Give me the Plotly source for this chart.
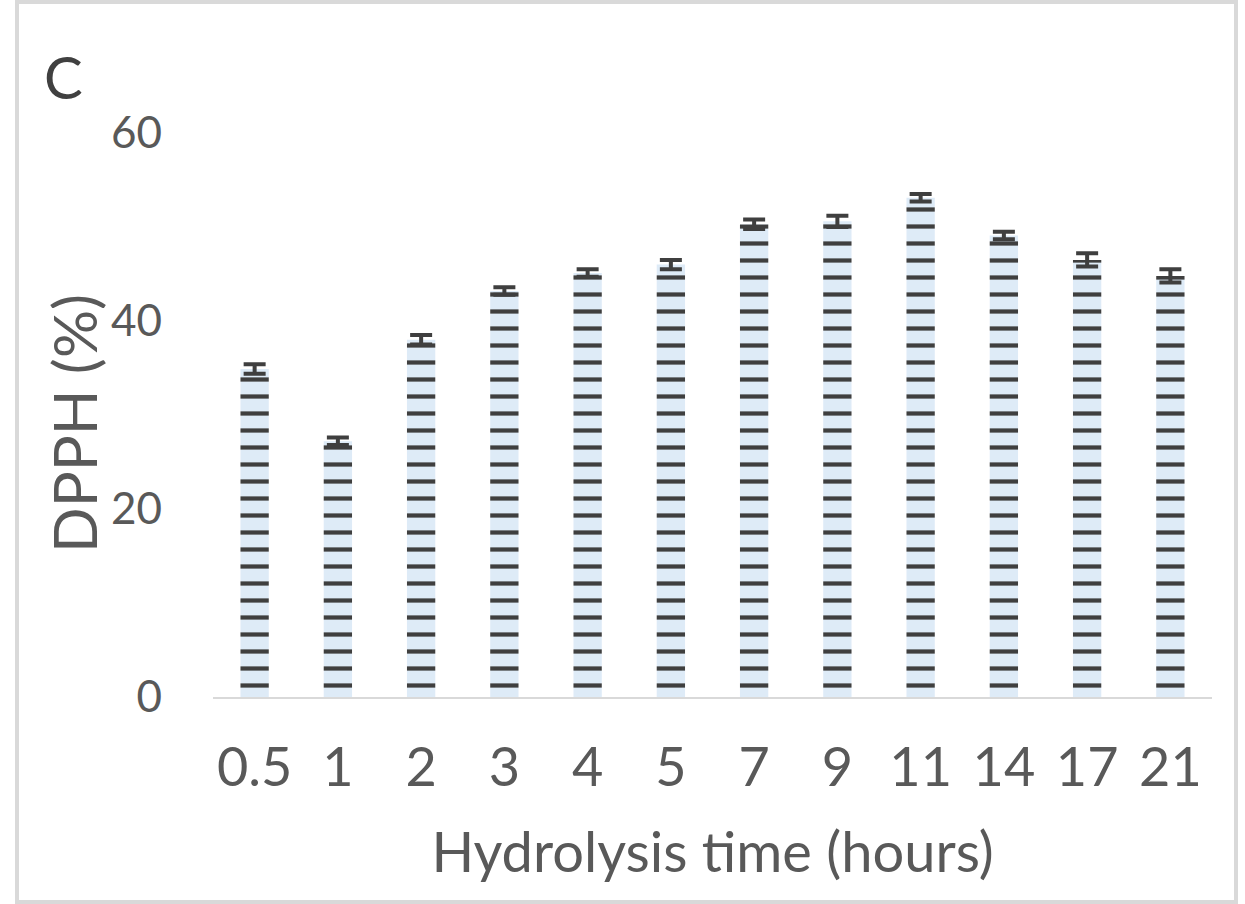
import plotly.graph_objects as go

categories = ["0.5", "1", "2", "3", "4", "5", "7", "9", "11", "14", "17", "21"]
dpph = [34.9, 27.2, 38.0, 43.2, 45.1, 46.0, 50.3, 50.6, 53.1, 49.1, 46.5, 44.8]
dpph_err = [0.5, 0.4, 0.5, 0.4, 0.4, 0.5, 0.5, 0.6, 0.4, 0.4, 0.7, 0.7]
y_ticks = [0, 20, 40, 60]

FONT = "Lato"
TXT = "#595959"

fig = go.Figure()
fig.add_trace(go.Bar(
    x=categories, y=dpph,
    marker=dict(
        color="#deebf7",
        line=dict(width=0),
        pattern=dict(shape="-", fgcolor="#3f3f3f", bgcolor="#deebf7",
                     size=17, solidity=0.25, fillmode="replace"),
    ),
    error_y=dict(type="data", array=dpph_err, visible=True,
                 color="#3f3f3f", thickness=4, width=11),
    showlegend=False,
))

fig.update_layout(
    width=1245, height=904,
    margin=dict(l=213, r=33, t=133, b=207),
    paper_bgcolor="white", plot_bgcolor="white",
    bargap=0.66,
    font=dict(family=FONT, color=TXT),
    xaxis=dict(
        type="category",
        showline=True, linecolor="#d9d9d9", linewidth=2,
        showgrid=False, ticks="",
        tickfont=dict(size=54, color=TXT, family=FONT),
        ticklabelstandoff=22,
        title=dict(text="Hydrolysis time (hours)", font=dict(size=56, color=TXT, family=FONT),
                   standoff=36),
    ),
    yaxis=dict(
        range=[0, 60], tickvals=y_ticks,
        showline=False, showgrid=False, zeroline=False, ticks="",
        tickfont=dict(size=44, color=TXT, family=FONT),
        ticklabelstandoff=50,
    ),
)

fig.add_annotation(text="DPPH (%)", xref="paper", yref="paper",
                   x=(74 - 213) / 999, y=(697 - 424) / 564,
                   xanchor="center", yanchor="middle", textangle=-90,
                   showarrow=False,
                   font=dict(size=60, color=TXT, family=FONT))

fig.add_annotation(text="C", xref="paper", yref="paper",
                   x=(42 - 213) / 999, y=(697 - 76) / 564,
                   xanchor="left", yanchor="middle", showarrow=False,
                   font=dict(size=58, color="#404040", family=FONT))

fig.add_shape(type="rect", xref="paper", yref="paper",
              x0=(17 - 213) / 999, x1=(1236 - 213) / 999,
              y0=(697 - 902) / 564, y1=(697 - 2) / 564,
              line=dict(color="#d9d9d9", width=4), fillcolor="rgba(0,0,0,0)",
              layer="below")

fig.write_html("out.html")
